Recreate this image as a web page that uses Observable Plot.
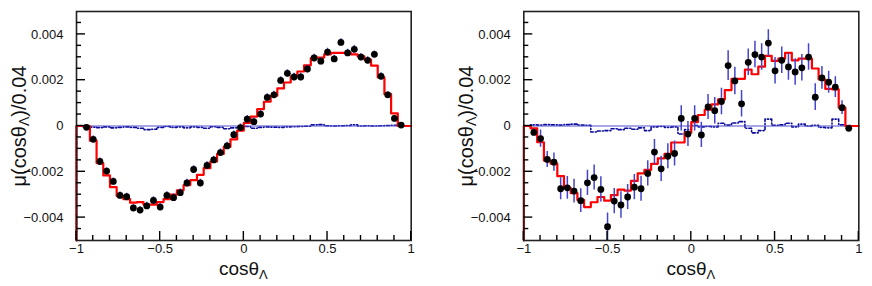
<!DOCTYPE html>
<html><head><meta charset="utf-8">
<script src="https://cdn.jsdelivr.net/npm/d3@7"></script>
<script src="https://cdn.jsdelivr.net/npm/@observablehq/plot@0.6"></script>
<style>
body{margin:0;background:#fff;}
#wrap{position:relative;width:872px;height:286px;overflow:hidden;}
#wrap svg{position:absolute;top:0;}
</style></head><body><div id="wrap"></div>
<script>
// bin centers (bin width 0.04)
const centers = [-0.98,-0.94,-0.90,-0.86,-0.82,-0.78,-0.74,-0.70,-0.66,-0.62,-0.58,-0.54,-0.50,-0.46,-0.42,-0.38,-0.34,-0.30,-0.26,-0.22,-0.18,-0.14,-0.10,-0.06,-0.02,0.02,0.06,0.10,0.14,0.18,0.22,0.26,0.30,0.34,0.38,0.42,0.46,0.50,0.54,0.58,0.62,0.66,0.70,0.74,0.78,0.82,0.86,0.90,0.94,0.98];
const binHalf = 0.02;

// Left panel
const redA = [0,0,-0.00064,-0.00162,-0.00216,-0.00267,-0.00306,-0.00319,-0.00335,-0.00332,-0.00343,-0.00343,-0.00332,-0.00319,-0.00300,-0.00281,-0.00258,-0.00236,-0.00213,-0.00184,-0.00155,-0.00122,-0.00091,-0.00058,-0.00020,0.00014,0.00041,0.00074,0.00106,0.00132,0.00164,0.00190,0.00217,0.00238,0.00265,0.00296,0.00299,0.00313,0.00319,0.00319,0.00319,0.00313,0.00304,0.00290,0.00264,0.00212,0.00139,0.00055,0,0];
const blueA = [0,-0.00004,-0.00005,-0.00007,-0.00004,-0.00008,-0.00006,-0.00004,-0.00006,-0.00010,-0.00016,-0.00014,-0.00006,-0.00002,-0.00006,-0.00004,-0.00008,-0.00004,-0.00006,-0.00010,-0.00003,-0.00006,-0.00012,-0.00008,-0.00004,-0.00002,-0.00010,-0.00006,-0.00004,-0.00005,-0.00006,-0.00004,-0.00003,-0.00002,-0.00001,0.00005,0.00006,0.00001,0.00000,0.00001,0.00002,0.00005,0.00000,0.00001,0.00000,0.00001,0.00002,0.00003,0.00001,0];
const ptsA = [null,-0.00006,-0.00058,-0.00155,-0.00197,-0.00242,-0.00303,-0.00309,-0.00358,-0.00367,-0.00349,-0.00325,-0.00354,-0.00303,-0.00313,-0.00291,-0.00249,-0.00190,-0.00249,-0.00172,-0.00148,-0.00116,-0.00087,-0.00038,-0.00007,0.00030,0.00019,0.00052,0.00125,0.00136,0.00199,0.00230,0.00214,0.00214,0.00249,0.00297,0.00283,0.00323,0.00293,0.00365,0.00319,0.00335,0.00301,0.00287,0.00313,0.00217,0.00136,0.00033,0.00004,null];
const errA = [null,0.00012,0.00014,0.00015,0.00015,0.00015,0.00015,0.00015,0.00015,0.00016,0.00016,0.00016,0.00016,0.00016,0.00016,0.00016,0.00016,0.00016,0.00016,0.00016,0.00016,0.00016,0.00016,0.00016,0.00016,0.00016,0.00016,0.00016,0.00016,0.00016,0.00016,0.00016,0.00016,0.00016,0.00016,0.00016,0.00016,0.00016,0.00016,0.00016,0.00016,0.00016,0.00016,0.00015,0.00015,0.00015,0.00014,0.00012,0.00008,null];

// Right panel
const redB = [0,-0.00010,-0.00071,-0.00151,-0.00164,-0.00219,-0.00270,-0.00293,-0.00323,-0.00354,-0.00333,-0.00310,-0.00326,-0.00302,-0.00278,-0.00282,-0.00240,-0.00207,-0.00192,-0.00165,-0.00141,-0.00122,-0.00072,-0.00072,-0.00029,0.00017,0.00048,0.00071,0.00094,0.00116,0.00157,0.00206,0.00206,0.00246,0.00226,0.00259,0.00306,0.00284,0.00294,0.00319,0.00287,0.00294,0.00294,0.00251,0.00203,0.00162,0.00160,0.00080,0,0];
const blueB = [0,0.00005,0.00004,0.00006,0.00005,0.00004,0.00006,0.00008,0.00004,0.00003,-0.00026,-0.00022,-0.00020,-0.00012,-0.00016,-0.00010,-0.00014,-0.00008,-0.00020,-0.00004,-0.00002,-0.00006,-0.00004,-0.00035,-0.00015,0.00002,-0.00004,-0.00002,-0.00004,0.00012,0.00004,0.00013,0.00019,-0.00010,-0.00030,-0.00020,0.00030,0.00003,0.00005,0.00012,-0.00004,0.00008,0.00000,0.00003,-0.00006,-0.00008,0.00030,0.00005,0.00002,0];
const ptsB = [null,-0.00028,-0.00055,-0.00146,-0.00158,-0.00274,-0.00270,-0.00284,-0.00326,-0.00248,-0.00225,-0.00277,-0.00440,-0.00328,-0.00345,-0.00310,-0.00267,-0.00274,-0.00207,-0.00114,-0.00187,-0.00132,-0.00120,0.00033,-0.00035,0.00033,-0.00039,0.00083,0.00067,0.00107,0.00264,0.00197,0.00097,0.00278,0.00312,0.00301,0.00362,0.00241,0.00287,0.00258,0.00236,0.00254,0.00301,0.00126,0.00210,0.00191,0.00170,0.00080,-0.00010,null];
const errB = [null,0.00015,0.00038,0.00035,0.00040,0.00048,0.00050,0.00052,0.00052,0.00055,0.00055,0.00055,0.00060,0.00055,0.00058,0.00055,0.00055,0.00055,0.00055,0.00055,0.00055,0.00055,0.00055,0.00055,0.00055,0.00055,0.00055,0.00055,0.00058,0.00058,0.00065,0.00060,0.00058,0.00058,0.00058,0.00058,0.00058,0.00058,0.00058,0.00058,0.00058,0.00058,0.00058,0.00058,0.00050,0.00048,0.00045,0.00030,0.00010,null];

const xTicksMajor = [-1,-0.5,0,0.5,1];
const xTickLabels = ["−1","−0.5","0","0.5","1"];
const xTicksMinor = [-0.9,-0.8,-0.7,-0.6,-0.4,-0.3,-0.2,-0.1,0.1,0.2,0.3,0.4,0.6,0.7,0.8,0.9];
const yTicksMajor = [-0.004,-0.002,0,0.002,0.004];
const yTickLabels = ["−0.004","−0.002","0","0.002","0.004"];
const yTicksMinor = [-0.0045,-0.0035,-0.003,-0.0025,-0.0015,-0.001,-0.0005,0.0005,0.001,0.0015,0.0025,0.003,0.0035,0.0045];
const xDomain = [-1,1], yDomain = [-0.005,0.005];

const FONT = '"Liberation Sans","Helvetica",Arial,sans-serif';

function steps(vals){
  const edges = centers.map(c => c - binHalf);
  const out = [{x: xDomain[0], y: yDomain[0]}];
  vals.forEach((v,i)=>out.push({x: edges[i], y: v}));
  out.push({x: xDomain[1], y: vals[vals.length-1]});
  return out;
}

function panel(red, blue, pts, err, mL, mR){
  const W = 436, H = 286, mT = 11, mB = 46;
  const pw = W - mL - mR, ph = H - mT - mB;
  const points = centers.map((c,i)=>({x:c, y:pts[i], e:err[i]})).filter(d=>d.y!=null);
  const tickStyle = {stroke:"#000", strokeWidth:1.4};
  const svg = Plot.plot({
    width: W, height: H, marginLeft: mL, marginRight: mR, marginTop: mT, marginBottom: mB,
    x: {domain: xDomain, label: null},
    y: {domain: yDomain, label: null},
    style: {fontFamily: FONT, fontSize: "13px", color: "#111", background: "white", overflow: "visible"},
    marks: [
      Plot.line(steps(blue), {x:"x", y:"y", curve:"step-after", stroke:"#0a0a9c", strokeWidth:1.6, strokeDasharray:"3,2,1,2"}),
      Plot.ruleY([0], {stroke:"#5050cc", strokeWidth:1.2}),
      Plot.line(steps(red), {x:"x", y:"y", curve:"step-after", stroke:"#ff0000", strokeWidth:2.2}),
      Plot.ruleX(points, {x:"x", y1:d=>d.y-d.e, y2:d=>d.y+d.e, stroke:"#4444cc", strokeWidth:1.5, clip:true}),
      Plot.dot(points, {x:"x", y:"y", r:3.4, fill:"black", stroke:null}),
      Plot.frame({stroke:"#222", strokeWidth:1.6}),
      Plot.axisY(yTicksMajor, {tickSize:0, tickPadding:13, tickFormat:d=>yTickLabels[yTicksMajor.indexOf(d)], label:null, fontSize:13}),
      Plot.axisX(xTicksMajor, {tickSize:0, tickPadding:3, tickFormat:d=>xTickLabels[xTicksMajor.indexOf(d)], label:null, fontSize:13})
    ]
  });
  // inward ROOT-style ticks, placed through the plot's own scales
  const s = d3.select(svg);
  const xs = svg.scale("x"), ys = svg.scale("y");
  const tg = s.append("g").attr("stroke", tickStyle.stroke).attr("stroke-width", tickStyle.strokeWidth);
  const x0 = xs.apply(xDomain[0]), y0 = ys.apply(yDomain[0]);
  yTicksMajor.forEach(v => tg.append("line").attr("x1", x0).attr("x2", x0 + 9).attr("y1", ys.apply(v)).attr("y2", ys.apply(v)));
  yTicksMinor.forEach(v => tg.append("line").attr("x1", x0).attr("x2", x0 + 5).attr("y1", ys.apply(v)).attr("y2", ys.apply(v)));
  xTicksMajor.forEach(v => tg.append("line").attr("y1", y0).attr("y2", y0 - 9).attr("x1", xs.apply(v)).attr("x2", xs.apply(v)));
  xTicksMinor.forEach(v => tg.append("line").attr("y1", y0).attr("y2", y0 - 5).attr("x1", xs.apply(v)).attr("x2", xs.apply(v)));

  const cx = (mL + W - mR)/2;
  const xt = s.append("text").attr("x", cx).attr("y", 275).attr("text-anchor","middle")
    .attr("font-size", 19).attr("font-family", FONT).attr("fill","#111");
  xt.append("tspan").text("cosθ");
  xt.append("tspan").attr("font-size", 13).attr("dy", 4).text("Λ");
  const yt = s.append("text").attr("transform", `translate(${mL-57},126) rotate(-90)`).attr("text-anchor","middle")
    .attr("dominant-baseline","central").attr("font-size", 20).attr("font-family", FONT).attr("fill","#111");
  yt.append("tspan").text("μ(cosθ");
  yt.append("tspan").attr("font-size", 14).attr("dy", 5).text("Λ");
  yt.append("tspan").attr("dy", -5).text(")/0.04");
  return svg;
}

const wrap = document.getElementById("wrap");
const s1 = panel(redA, blueA, ptsA, errA, 76, 25.3);
s1.style.left = "0px";
wrap.appendChild(s1);
const s2 = panel(redB, blueB, ptsB, errB, 87.3, 13.7);
s2.style.left = "436px";
wrap.appendChild(s2);
</script></body></html>
